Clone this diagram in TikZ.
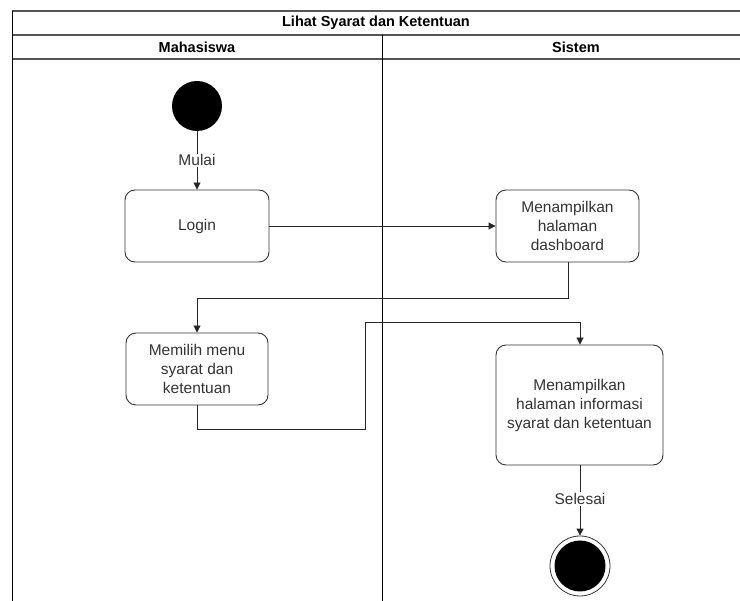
\documentclass[tikz,border=0pt]{standalone}
\usepackage{fontspec}
\setmainfont{Liberation Sans}
\usetikzlibrary{arrows.meta}
\definecolor{txt}{HTML}{333333}
\definecolor{hdr}{HTML}{555555}
\begin{document}
\begin{tikzpicture}[x=1pt,y=-1pt,
  act/.style={draw=black!80, line width=0.9pt, rounded corners=10pt, align=center,
    text=txt, font=\fontsize{15.5}{19}\selectfont, inner sep=0pt},
  flow/.style={draw=black!85, line width=0.9pt},
  arr/.style={flow, -{Triangle[length=7pt,width=7pt]}},
  lbl/.style={fill=white, text=txt, font=\fontsize{15.5}{19}\selectfont, inner sep=1pt},
  hdrtext/.style={font=\bfseries\fontsize{14.5}{17}\selectfont, text=black}]
\useasboundingbox (0,0) rectangle (740,601);
% swimlane frame
\draw[hdr, line width=1.2pt] (12,11) -- (740,11);
\draw[hdr, line width=1.2pt] (12,35) -- (740,35);
\draw[hdr, line width=1.2pt] (12,59) -- (740,59);
\draw[black, line width=1pt] (12,11) -- (12,601);
\draw[black, line width=1pt] (382,35) -- (382,601);
\node[hdrtext] (title) at (376,23) {Lihat Syarat dan Ketentuan};
\node[hdrtext] (lane1) at (197,47) {Mahasiswa};
\node[hdrtext] (lane2) at (576,47) {Sistem};
% nodes
\node[circle, fill=black, minimum size=50pt, inner sep=0pt] (start) at (197,106) {};
\node[act, minimum width=144pt, minimum height=72pt] (login) at (197,226) {Login};
\node[act, minimum width=143pt, minimum height=72pt] (dash) at (567.5,226) {Menampilkan\\halaman\\dashboard};
\node[act, minimum width=142pt, minimum height=72pt] (menu) at (197,369) {Memilih menu\\syarat dan\\ketentuan};
\node[act, minimum width=167pt, minimum height=120pt] (info) at (579.5,405) {Menampilkan\\halaman informasi\\syarat dan ketentuan};
\node[circle, draw=black!80, line width=0.8pt, minimum size=60pt, inner sep=0pt] (endo) at (580,566) {};
\node[circle, fill=black, minimum size=51pt, inner sep=0pt] (endi) at (580,566) {};
% connectors
\draw[arr] (start) -- node[lbl, pos=0.5] {Mulai} (login);
\draw[arr] (login) -- (dash);
\coordinate (c1) at (568,298);
\coordinate (c2) at (197,298);
\draw[arr] (dash.south -| c1) -- (c1) -- (c2) -- (menu.north);
\coordinate (d1) at (197,429);
\coordinate (d2) at (365,429);
\coordinate (d3) at (365,322);
\coordinate (d4) at (580,322);
\draw[arr] (menu.south) -- (d1) -- (d2) -- (d3) -- (d4) -- (info.north -| d4);
\draw[arr] (info.south -| endo) -- node[lbl, pos=0.48] {Selesai} (endo.north);
\end{tikzpicture}
\end{document}
